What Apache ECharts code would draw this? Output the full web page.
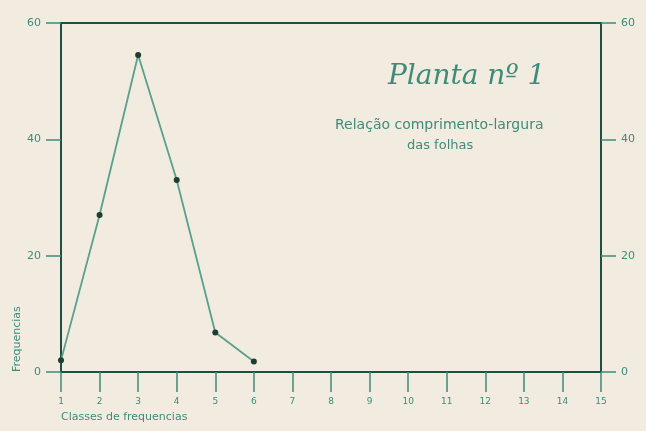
<!DOCTYPE html>
<html>
<head>
<meta charset="utf-8">
<script src="https://cdn.jsdelivr.net/npm/echarts@6/dist/echarts.min.js"></script>
<style>
  html, body { margin: 0; padding: 0; background: #f1ebe0; }
  #chart { width: 646px; height: 431px; }
</style>
</head>
<body>
<div id="chart"></div>
<script>
// classes de frequencias (x) e frequencias (y)
const classes = [1, 2, 3, 4, 5, 6];
const frequencias = [2, 27, 54.5, 33, 6.8, 1.8];
const yTicks = [0, 20, 40, 60];

const INK = '#1d4f42';
const TEAL = '#3d8c7b';
const LINE = '#5aa08e';

const chart = echarts.init(document.getElementById('chart'));

const yAxisBase = {
    type: 'value',
    min: yTicks[0],
    max: yTicks[yTicks.length - 1],
    interval: 20,
    axisLine: { show: true, lineStyle: { color: INK, width: 2 } },
    axisTick: { show: true, inside: false, length: 15, lineStyle: { color: TEAL, width: 1.5 } },
    splitLine: { show: false },
    axisLabel: { color: TEAL, fontSize: 11, fontFamily: 'DejaVu Sans', margin: 20 }
};

chart.setOption({
    backgroundColor: '#f1ebe0',
    animation: false,
    grid: {
        left: 61, right: 45, top: 23, bottom: 59,
        show: true, borderColor: INK, borderWidth: 2
    },
    title: [
        {
            text: 'Planta nº 1',
            left: 383, top: 58,
            textStyle: { color: TEAL, fontSize: 28, fontStyle: 'italic', fontWeight: 'normal', fontFamily: 'DejaVu Serif' }
        },
        {
            text: 'Relação comprimento-largura',
            left: 330, top: 113,
            textStyle: { color: TEAL, fontSize: 14, fontWeight: 'normal', fontFamily: 'DejaVu Sans' }
        },
        {
            text: 'das folhas',
            left: 402, top: 134,
            textStyle: { color: TEAL, fontSize: 13, fontWeight: 'normal', fontFamily: 'DejaVu Sans' }
        }
    ],
    graphic: [
        {
            type: 'text',
            x: 12, y: 372,
            rotation: Math.PI / 2,
            style: { text: 'Frequencias', fill: TEAL, fontSize: 11, fontFamily: 'DejaVu Sans' }
        }
    ],
    xAxis: {
        type: 'value',
        min: 1, max: 15, interval: 1,
        name: 'Classes de frequencias',
        nameLocation: 'start',
        nameGap: 0,
        nameTextStyle: { color: TEAL, fontSize: 11, fontFamily: 'DejaVu Sans', align: 'left', verticalAlign: 'top', padding: [40, 0, 0, 0] },
        axisLine: { show: true, onZero: false, lineStyle: { color: INK, width: 2 } },
        axisTick: { show: true, length: 20, lineStyle: { color: TEAL, width: 1.5 } },
        splitLine: { show: false },
        axisLabel: { color: TEAL, fontSize: 9, margin: 25, fontFamily: 'DejaVu Sans' }
    },
    yAxis: [
        Object.assign({}, yAxisBase, { position: 'left' }),
        Object.assign({}, yAxisBase, { position: 'right' })
    ],
    series: [
        {
            type: 'line',
            data: classes.map((c, i) => [c, frequencias[i]]),
            symbol: 'circle',
            symbolSize: 6,
            itemStyle: { color: '#1f3b33' },
            lineStyle: { color: LINE, width: 1.8 },
            clip: false
        }
    ]
});
</script>
</body>
</html>
